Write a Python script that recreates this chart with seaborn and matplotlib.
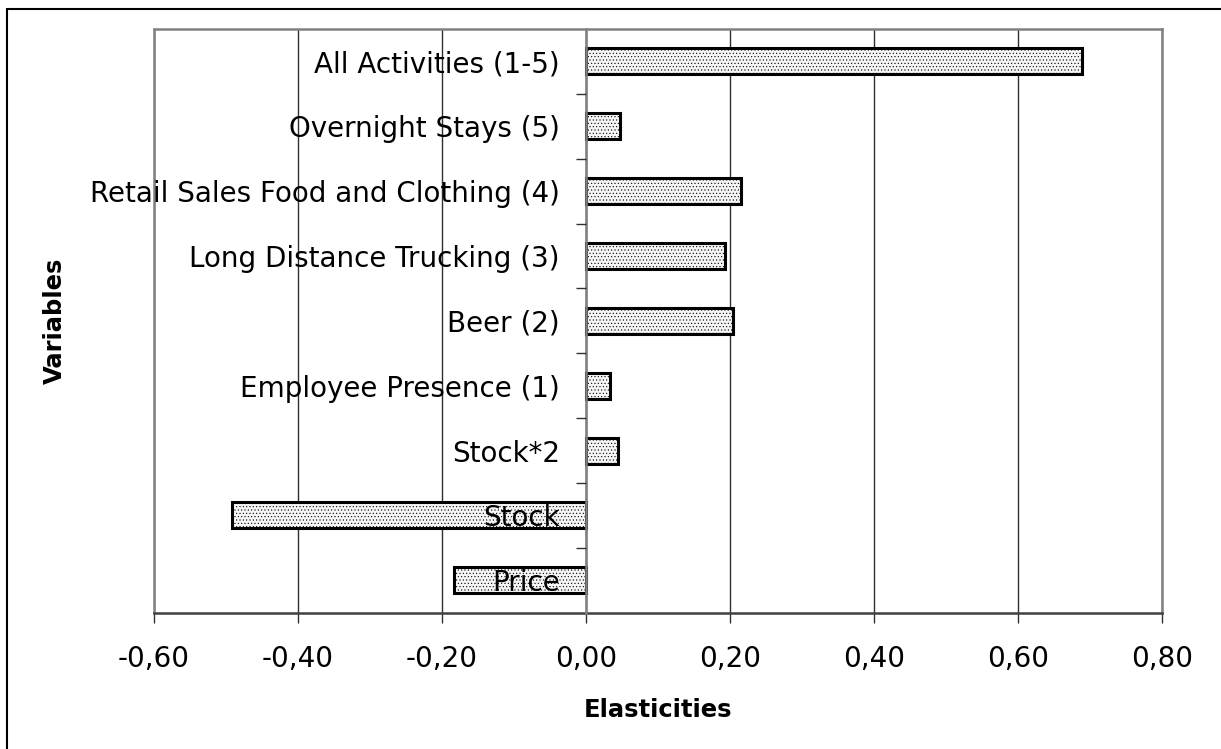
import numpy as np
import pandas as pd
import matplotlib
matplotlib.use('Agg')
import matplotlib.pyplot as plt
import seaborn as sns
from matplotlib.ticker import FuncFormatter, FixedLocator
from matplotlib.lines import Line2D

# data
variables = ['All Activities (1-5)', 'Overnight Stays (5)', 'Retail Sales Food and Clothing (4)',
             'Long Distance Trucking (3)', 'Beer (2)', 'Employee Presence (1)',
             'Stock*2', 'Stock', 'Price']
elasticities = [0.689, 0.047, 0.215, 0.193, 0.204, 0.033, 0.044, -0.492, -0.183]
xticks = [-0.6, -0.4, -0.2, 0.0, 0.2, 0.4, 0.6, 0.8]

df = pd.DataFrame({'variable': variables, 'elasticity': elasticities})

sns.set_style('white')
plt.rcParams['font.family'] = ['DejaVu Sans']
plt.rcParams['text.color'] = 'black'
plt.rcParams['axes.labelcolor'] = 'black'
plt.rcParams['xtick.color'] = 'black'
plt.rcParams['ytick.color'] = 'black'
plt.rcParams['hatch.color'] = '#d2d2d2'
plt.rcParams['hatch.linewidth'] = 0.4

fig = plt.figure(figsize=(12.21, 7.49), dpi=100)
ax = fig.add_axes([154 / 1221, 1 - 612.7 / 749, (1162.3 - 154) / 1221, (612.7 - 29) / 749])

sns.barplot(data=df, x='elasticity', y='variable', order=variables, orient='h',
            width=0.4, color='#f5f5f5', edgecolor='black', linewidth=2.2,
            hatch='.....', saturation=1, ax=ax, zorder=3)

ax.set_xlim(-0.6, 0.8)
ax.set_ylim(8.5, -0.5)
ax.xaxis.set_major_locator(FixedLocator(xticks))
ax.xaxis.set_major_formatter(FuncFormatter(lambda v, p: f'{v:.2f}'.replace('.', ',')))
ax.grid(axis='x', color='#303030', linewidth=1, zorder=0)
ax.grid(axis='y', visible=False)

# y axis sits on zero, like the Excel original; labels drawn over the bars
ax.spines['left'].set_position(('data', 0))
ax.spines['left'].set_color('#808080')
ax.spines['left'].set_linewidth(1.8)
ax.spines['left'].set_zorder(4)
for s in ['top', 'right']:
    ax.spines[s].set_color('#808080')
    ax.spines[s].set_linewidth(1.8)
ax.spines['bottom'].set_color('#404040')
ax.spines['bottom'].set_linewidth(1.8)
ax.add_line(Line2D([0, 0], [0, 1], transform=ax.transAxes, color='#808080', lw=1.8, clip_on=False))
ax.yaxis.set_zorder(5)

ax.yaxis.set_minor_locator(FixedLocator(np.arange(0.5, 8, 1)))
ax.tick_params(axis='y', which='major', length=0, pad=19, labelsize=20, labelcolor='black')
ax.tick_params(axis='y', which='minor', length=7.5, width=1, color='#303030', direction='out', left=True)
ax.tick_params(axis='x', which='major', length=7.5, width=1, color='#303030', direction='out',
               bottom=True, pad=16, labelsize=20, labelcolor='black')

ax.set_xlabel('Elasticities', fontsize=17.5, fontweight='bold', labelpad=18, color='black')
ax.set_ylabel('')
fig.text(55 / 1221, 1 - 321 / 749, 'Variables', rotation=90, fontsize=17.5, fontweight='bold',
         ha='center', va='center', color='black')

# outer chart border (only left and top fall inside the picture)
fig.add_artist(Line2D([6.7 / 1221, 6.7 / 1221], [0, 1 - 8.7 / 749], transform=fig.transFigure, color='black', lw=1.5))
fig.add_artist(Line2D([6.7 / 1221, 1], [1 - 8.7 / 749, 1 - 8.7 / 749], transform=fig.transFigure, color='black', lw=1.5))

fig.savefig('out.png', dpi=100)
